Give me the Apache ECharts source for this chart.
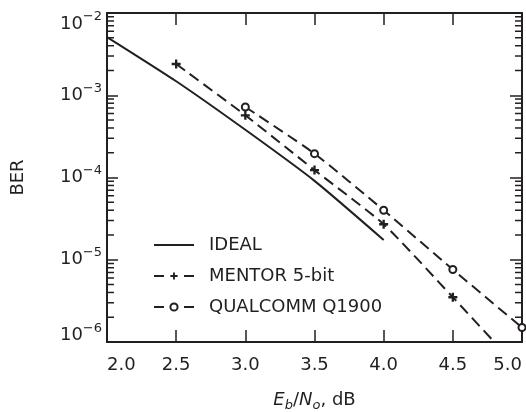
<!DOCTYPE html>
<html>
<head>
<meta charset="utf-8">
<script src="https://cdn.jsdelivr.net/npm/echarts@6/dist/echarts.min.js"></script>
<style>
html, body { margin: 0; padding: 0; background: #fff; }
#main { width: 526px; height: 412px; }
</style>
</head>
<body>
<div id="main"></div>
<script>
var ink = '#231f20';
var font = 'DejaVu Sans, Liberation Sans, Arial, sans-serif';

// Eb/No (dB) 与 BER 读数
var idealX = [2.0, 2.5, 3.0, 3.5, 4.0];
var idealBer = [5.1e-3, 1.48e-3, 3.8e-4, 9.1e-5, 1.74e-5];
var mentorX = [2.5, 3.0, 3.5, 4.0, 4.5, 4.8];
var mentorBer = [2.4e-3, 5.7e-4, 1.23e-4, 2.7e-5, 3.5e-6, 1.0e-6];
var qualX = [3.0, 3.5, 4.0, 4.5, 5.0];
var qualBer = [7.2e-4, 1.95e-4, 4.0e-5, 7.6e-6, 1.5e-6];
var legendNames = ['IDEAL', 'MENTOR 5-bit', 'QUALCOMM Q1900'];

var xMin = 2.0, xMax = 5.0, xStep = 0.5;
var berMin = 1e-6, berMax = 1e-2;

var plusPath = 'path://M3.7,0H6.3V3.7H10V6.3H6.3V10H3.7V6.3H0V3.7H3.7Z';

function pairs(xs, ys) {
    var out = [];
    for (var i = 0; i < xs.length; i++) {
        out.push([xs[i], ys[i]]);
    }
    return out;
}

// 对数轴的 2..9 小刻度
var minorTicks = [];
for (var d = -6; d < -2; d++) {
    for (var m = 2; m <= 9; m++) {
        minorTicks.push([xMin, m * Math.pow(10, d)]);
    }
}

var mentorData = pairs(mentorX, mentorBer);
// 最后一个点只是线的终点，没有标记
mentorData[mentorData.length - 1] = { value: mentorData[mentorData.length - 1], symbol: 'none' };

function yLabel(v) {
    var e = Math.round(Math.log(v) / Math.LN10);
    var k = '';
    if (e === -2) k = 't';      // 顶端标签往下挪
    if (e === -6) k = 'u';      // 底端标签往上挪
    return '{b' + k + '|10}{s' + k + '|\u2212' + (-e) + '}';
}

function txt(size, pad) {
    return { fontSize: size, fontFamily: font, color: ink, padding: pad };
}

var yRich = {
    b: txt(18, [0, 0, 0, 0]),
    s: txt(13, [0, 0, 14, 0]),
    bt: txt(18, [22, 0, 0, 0]),
    st: txt(13, [8, 0, 0, 0]),
    bu: txt(18, [0, 0, 13, 0]),
    su: txt(13, [0, 0, 27, 0])
};

var xName = '{i|E}{is|b}{n|/}{i|N}{is|o}{n|, dB}';
var xRich = {
    i: { fontSize: 18, fontFamily: font, color: ink, fontStyle: 'italic' },
    is: { fontSize: 13, fontFamily: font, color: ink, fontStyle: 'italic', padding: [10, 0, 0, 0] },
    n: { fontSize: 18, fontFamily: font, color: ink }
};

var axisLine = { show: true, onZero: false, lineStyle: { color: ink, width: 2 } };

var myChart = echarts.init(document.getElementById('main'), null, { renderer: 'canvas' });
var option = {
    backgroundColor: '#fff',
    animation: false,
    grid: { left: 107, right: 4, top: 13, bottom: 70, containLabel: false, outerBoundsMode: 'none' },
    legend: {
        orient: 'vertical',
        left: 153,
        top: 236,
        padding: 0,
        itemWidth: 40,
        itemHeight: 9,
        itemGap: 13,
        textStyle: { fontSize: 18, fontFamily: font, color: ink, padding: [0, 0, 0, 10] },
        data: [
            { name: legendNames[0], itemStyle: { opacity: 0 } },
            { name: legendNames[1], lineStyle: { type: [10, 20] } },
            { name: legendNames[2], lineStyle: { type: [10, 20] } }
        ]
    },
    xAxis: [{
        type: 'value',
        position: 'bottom',
        min: xMin,
        max: xMax,
        interval: xStep,
        axisLine: axisLine,
        axisTick: { inside: true, length: 12, lineStyle: { color: ink, width: 1.5 } },
        splitLine: { show: false },
        axisLabel: {
            margin: 14,
            fontSize: 18,
            fontFamily: font,
            color: ink,
            alignMinLabel: 'left',
            alignMaxLabel: 'right',
            formatter: function (v) { return v.toFixed(1); }
        },
        name: xName,
        nameLocation: 'middle',
        nameGap: 47,
        nameTextStyle: { rich: xRich }
    }, {
        type: 'value',
        position: 'top',
        min: xMin,
        max: xMax,
        interval: xStep,
        axisLine: axisLine,
        axisTick: { inside: true, length: 12, lineStyle: { color: ink, width: 1.5 } },
        splitLine: { show: false },
        axisLabel: { show: false }
    }],
    yAxis: [{
        type: 'log',
        position: 'left',
        min: berMin,
        max: berMax,
        axisLine: axisLine,
        axisTick: { inside: true, length: 11, lineStyle: { color: ink, width: 1.5 } },
        splitLine: { show: false },
        axisLabel: {
            margin: 5,
            formatter: yLabel,
            rich: yRich
        },
        name: 'BER',
        nameLocation: 'middle',
        nameGap: 80,
        nameTextStyle: { fontSize: 18, fontFamily: font, color: ink }
    }, {
        type: 'log',
        position: 'right',
        min: berMin,
        max: berMax,
        axisLine: axisLine,
        axisTick: { inside: true, length: 12, lineStyle: { color: ink, width: 1.5 } },
        splitLine: { show: false },
        axisLabel: { show: false }
    }],
    series: [{
        name: legendNames[0],
        type: 'line',
        data: pairs(idealX, idealBer),
        symbol: 'none',
        smooth: 0.2,
        lineStyle: { color: ink, width: 2 },
        itemStyle: { color: ink }
    }, {
        name: legendNames[1],
        type: 'line',
        data: mentorData,
        symbol: plusPath,
        symbolSize: 9,
        smooth: 0.2,
        lineStyle: { color: ink, width: 2, type: [11, 6] },
        itemStyle: { color: ink }
    }, {
        name: legendNames[2],
        type: 'line',
        data: pairs(qualX, qualBer),
        symbol: 'emptyCircle',
        symbolSize: 7,
        smooth: 0.2,
        lineStyle: { color: ink, width: 2, type: [11, 6] },
        itemStyle: { color: ink, borderColor: ink, borderWidth: 1.6 }
    }, {
        type: 'custom',
        silent: true,
        data: minorTicks,
        renderItem: function (params, api) {
            var v = api.value(1);
            var l = api.coord([xMin, v]);
            var r = api.coord([xMax, v]);
            return {
                type: 'group',
                children: [
                    { type: 'line', shape: { x1: l[0], y1: l[1], x2: l[0] + 7, y2: l[1] }, style: { stroke: ink, lineWidth: 1.5 } },
                    { type: 'line', shape: { x1: r[0] - 7, y1: r[1], x2: r[0], y2: r[1] }, style: { stroke: ink, lineWidth: 1.5 } }
                ]
            };
        }
    }]
};
myChart.setOption(option);
</script>
</body>
</html>
